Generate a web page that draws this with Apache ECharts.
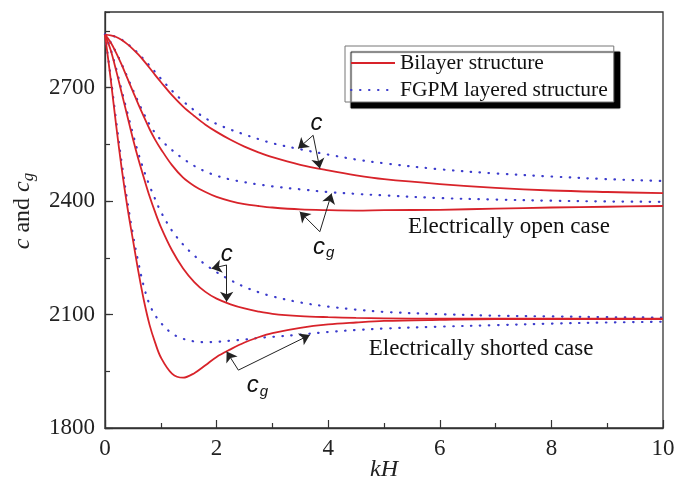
<!DOCTYPE html>
<html>
<head>
<meta charset="utf-8">
<script src="https://cdn.jsdelivr.net/npm/echarts@6/dist/echarts.min.js"></script>
<style>
html,body{margin:0;padding:0;background:#fff;}
#chart{width:675px;height:479px;}
</style>
</head>
<body>
<div id="chart"></div>
<script>
// ---- data ----
const kH = [0,0.1,0.2,0.3,0.4,0.5,0.6,0.7,0.8,0.9,1.0,1.2,1.4,1.6,1.8,2.0,2.25,2.5,2.75,3.0,3.5,4.0,4.5,5,6,7,8,9,10];

// Electrically open case
const openC_bilayer  = [2840,2838,2834,2826,2815,2802,2787,2770,2752,2733,2715,2680,2650,2625,2602,2583,2562,2544,2529,2516,2496,2481,2468,2458,2445,2435,2428,2424,2421];
const openC_fgpm     = [2840,2838,2834,2827,2816,2804,2790,2774,2758,2741,2724,2692,2664,2640,2619,2604,2589,2576,2564,2553,2537,2523,2510,2500,2484,2473,2465,2458,2453];
const openCg_bilayer = [2840,2820,2792,2760,2725,2690,2655,2622,2590,2562,2538,2495,2462,2440,2424,2411,2400,2392,2387,2383,2378,2376,2375,2376,2377,2380,2383,2385,2387];
const openCg_fgpm    = [2840,2820,2793,2762,2728,2694,2661,2630,2602,2580,2562,2535,2512,2493,2478,2467,2457,2450,2444,2439,2431,2424,2419,2415,2408,2404,2401,2399,2398];

// Electrically shorted case
const shortC_bilayer  = [2840,2800,2745,2685,2625,2565,2510,2460,2412,2370,2332,2270,2222,2186,2160,2142,2127,2116,2108,2102,2096,2093,2091,2090,2089,2089,2089,2089,2089];
const shortC_fgpm     = [2840,2802,2750,2692,2634,2578,2525,2480,2440,2405,2372,2322,2285,2256,2232,2212,2191,2173,2159,2148,2132,2121,2113,2107,2101,2097,2095,2093,2092];
const shortCg_bilayer = [2840,2725,2600,2485,2385,2298,2212,2135,2072,2025,1987,1944,1933,1945,1966,1988,2008,2026,2040,2051,2065,2074,2079,2083,2086,2088,2088,2088,2088];
const shortCg_fgpm    = [2840,2730,2612,2500,2400,2312,2236,2172,2126,2098,2078,2050,2036,2029,2027,2028,2031,2034,2038,2041,2047,2054,2059,2063,2068,2072,2076,2079,2081];

// axis ticks
const xTicks = [0,2,4,6,8,10];
const yTicks = [1800,2100,2400,2700];

// legend names
const legendNames = ['Bilayer structure','FGPM layered structure'];

// annotations (data coordinates)
const arrowSegments = [
  [[3.73,2574],[3.46,2539]], [[3.73,2574],[3.85,2486]],
  [[3.85,2319],[3.49,2372]], [[3.85,2319],[4.06,2420]],
  [[2.18,2231],[1.91,2222]], [[2.18,2231],[2.18,2134]],
  [[2.39,1953],[2.18,2002]], [[2.39,1953],[3.67,2046]]
];
const symbolLabels = [
  {t:'{c|c}', at:[3.79,2606]},
  {t:'{c|c}{g|g}', at:[3.92,2278]},
  {t:'{c|c}', at:[2.18,2259]},
  {t:'{c|c}{g|g}', at:[2.73,1912]}
];
const caseLabels = [
  {t:'Electrically open case', at:[7.24,2331]},
  {t:'Electrically shorted case', at:[6.74,2009]}
];

// ---- build ----
const pairs = ys => kH.map((x,i)=>[x, ys[i]]);
const RED = '#d8232a';
const BLUE = '#3b3bcc';
const serif = 'Liberation Serif';

function redSeries(ys){
  return {name:legendNames[0], type:'line', data:pairs(ys), symbol:'none', smooth:0.35,
    lineStyle:{color:RED, width:1.8}, itemStyle:{color:RED}, z:3, animation:false};
}
function blueSeries(ys){
  return {name:legendNames[1], type:'line', data:pairs(ys), symbol:'none', smooth:0.35,
    lineStyle:{color:BLUE, width:2.2, type:[0.5,8.5], cap:'round'}, itemStyle:{color:BLUE}, z:2, animation:false};
}

const series = [
  redSeries(openC_bilayer), redSeries(openCg_bilayer), redSeries(shortC_bilayer), redSeries(shortCg_bilayer),
  blueSeries(openC_fgpm), blueSeries(openCg_fgpm), blueSeries(shortC_fgpm), blueSeries(shortCg_fgpm),
  {
    name:'annot', type:'line', data:[], animation:false, silent:true,
    markLine:{
      silent:true, animation:false, symbol:['none','arrow'], symbolSize:10,
      label:{show:false},
      lineStyle:{color:'#222', width:1, type:'solid'},
      itemStyle:{color:'#222'},
      emphasis:{disabled:true},
      data: arrowSegments.map(s=>[{coord:s[0]},{coord:s[1]}])
    },
    markPoint:{
      silent:true, animation:false, symbol:'circle', symbolSize:1,
      itemStyle:{color:'rgba(0,0,0,0)'},
      label:{show:true, position:'inside', color:'#111',
        rich:{
          c:{fontFamily:'Liberation Sans', fontStyle:'italic', fontSize:24, color:'#111'},
          g:{fontFamily:'Liberation Sans', fontStyle:'italic', fontSize:15, color:'#111', padding:[12,0,0,1]},
          e:{fontFamily:serif, fontSize:23, color:'#111'}
        }},
      data: symbolLabels.map(l=>({coord:l.at, value:l.t, label:{formatter:l.t}}))
        .concat(caseLabels.map(l=>({coord:l.at, value:l.t, label:{formatter:'{e|'+l.t+'}'}})))
    }
  }
];

const chart = echarts.init(document.getElementById('chart'), null, {renderer:'canvas'});
chart.setOption({
  backgroundColor:'#fff',
  animation:false,
  grid:{left:105, right:12, top:12, bottom:51, outerBoundsMode:'none', containLabel:false,
    show:true, borderColor:'#333', borderWidth:1.3, backgroundColor:'rgba(0,0,0,0)'},
  legend:{
    data:legendNames, orient:'vertical', left:345, top:46,
    itemWidth:44, itemHeight:14, itemGap:5, padding:[6,6,1,5],
    backgroundColor:'#fff', borderColor:'#777', borderWidth:1,
    shadowColor:'#000', shadowBlur:1, shadowOffsetX:6, shadowOffsetY:6,
    itemStyle:{opacity:0},
    textStyle:{fontFamily:serif, fontSize:21.5, color:'#111'},
    selectedMode:false
  },
  xAxis:{
    type:'value', min:xTicks[0], max:xTicks[xTicks.length-1], interval:xTicks[1]-xTicks[0],
    name:'kH', nameLocation:'middle', nameGap:30, nameMoveOverlap:false,
    nameTextStyle:{fontFamily:serif, fontStyle:'italic', fontSize:24, color:'#222'},
    axisLine:{lineStyle:{color:'#333', width:1.3}},
    axisTick:{inside:true, length:8, lineStyle:{color:'#333', width:1.2}},
    minorTick:{show:true, splitNumber:2, length:5, lineStyle:{color:'#333', width:1.2}},
    axisLabel:{fontFamily:serif, fontSize:23, color:'#222', margin:9},
    splitLine:{show:false}
  },
  yAxis:[{
    type:'value', min:yTicks[0], max:2900, interval:yTicks[1]-yTicks[0],
    name:'{i|c} and {i|c}{s|g}', nameLocation:'middle', nameGap:68,
    nameTextStyle:{fontFamily:serif, fontSize:24, color:'#222', padding:[0,0,0,18],
      rich:{i:{fontFamily:serif, fontStyle:'italic', fontSize:24, color:'#222'},
            s:{fontFamily:serif, fontStyle:'italic', fontSize:17, color:'#222', padding:[11,0,0,0]}}},
    axisLine:{lineStyle:{color:'#333', width:1.3}},
    axisTick:{inside:true, length:8, lineStyle:{color:'#333', width:1.2}},
    axisLabel:{fontFamily:serif, fontSize:23, color:'#222', margin:10, showMaxLabel:false,
      formatter:v=> yTicks.indexOf(v)>=0 ? String(v) : ''},
    splitLine:{show:false}
  },{
    type:'value', min:yTicks[0], max:2900, interval:(yTicks[1]-yTicks[0])/2, position:'left',
    axisLine:{show:false},
    axisTick:{inside:true, length:5, lineStyle:{color:'#333', width:1.2}},
    axisLabel:{show:false}, splitLine:{show:false}
  }],
  series: series
});
</script>
</body>
</html>
